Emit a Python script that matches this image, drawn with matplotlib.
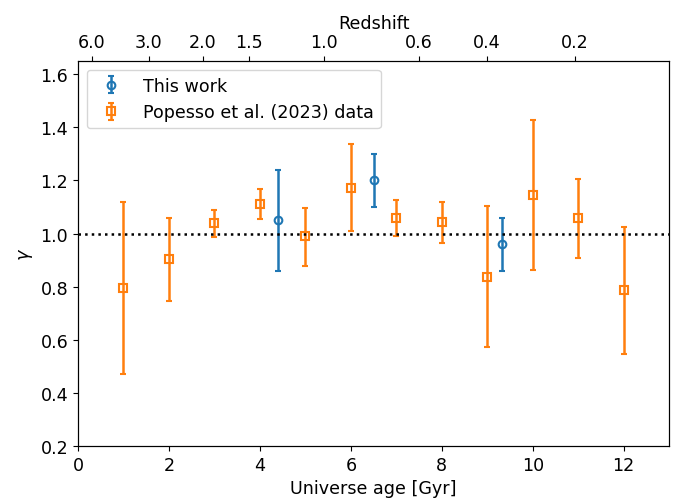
import numpy as np
import matplotlib.pyplot as plt

# === DATA ===
# this work: age [Gyr], gamma, lower / upper errors
age_this = [4.39, 6.51, 9.33]
gamma_this = [1.050, 1.200, 0.961]
lo_this = [0.190, 0.099, 0.101]
hi_this = [0.189, 0.101, 0.099]

# Popesso et al. (2023)
age_pop = [1, 2, 3, 4, 5, 6, 7, 8, 9, 10, 11, 12]
gamma_pop = [0.794, 0.904, 1.040, 1.112, 0.989, 1.172, 1.058, 1.043, 0.836, 1.146, 1.058, 0.786]
lo_pop = [0.323, 0.158, 0.054, 0.058, 0.110, 0.162, 0.066, 0.078, 0.264, 0.283, 0.149, 0.238]
hi_pop = [0.323, 0.154, 0.050, 0.057, 0.109, 0.166, 0.070, 0.074, 0.267, 0.280, 0.147, 0.238]

# top axis: redshift labels and the ages they sit at
z_labels = ["6.0", "3.0", "2.0", "1.5", "1.0", "0.6", "0.4", "0.2"]
z_ages = [0.31, 1.56, 2.74, 3.77, 5.41, 7.50, 8.99, 10.93]

FS = 12.6

# === PLOT ===
fig = plt.figure(figsize=(6.78, 5.02), dpi=100)
ax = fig.add_axes([0.115, 0.1096, 0.872, 0.767])

ax.errorbar(age_this, gamma_this, yerr=[lo_this, hi_this], fmt='o', mfc='none',
            color='C0', capsize=2, elinewidth=1.8, mew=1.5, ms=5.5, label='This work')
ax.errorbar(age_pop, gamma_pop, yerr=[lo_pop, hi_pop], fmt='s', mfc='none',
            color='C1', capsize=2, elinewidth=1.8, mew=1.5, ms=5.5,
            label='Popesso et al. (2023) data')
ax.axhline(1.0, color='k', ls=':', lw=1.8)

ax.set_xlim(0, 13)
ax.set_ylim(0.2, 1.65)
ax.set_yticks(np.arange(0.2, 1.61, 0.2))
ax.set_xticks(np.arange(0, 13, 2))
ax.set_xlabel("Universe age [Gyr]", fontsize=FS)
ax.set_ylabel(r"$\gamma$", fontsize=FS)
ax.tick_params(labelsize=FS)
ax.legend(loc='upper left', fontsize=FS)

top = ax.twiny()
top.set_xlim(ax.get_xlim())
top.set_xticks(z_ages)
top.set_xticklabels(z_labels)
top.tick_params(labelsize=FS)
top.set_xlabel("Redshift", fontsize=FS)

plt.savefig("out.png", dpi=100)
